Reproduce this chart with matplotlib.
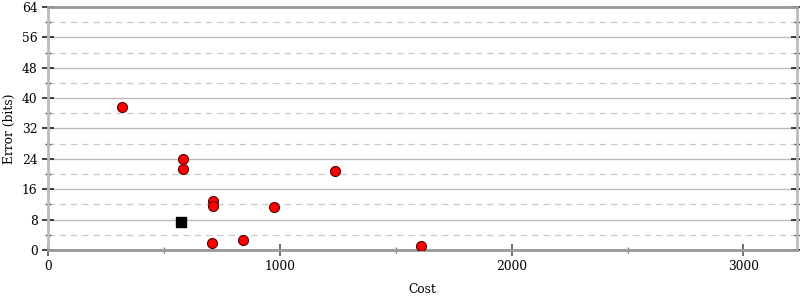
import matplotlib

matplotlib.use("Agg")
import matplotlib.pyplot as plt
from matplotlib.ticker import MultipleLocator

plt.rcParams["font.family"] = ["DejaVu Serif"]

# red circles: (cost, error bits)
cost = [319, 582, 582, 711, 711, 708, 842, 975, 1240, 1608]
error_bits = [37.7, 23.9, 21.3, 12.8, 11.7, 1.9, 2.55, 11.3, 20.8, 1.1]
# black square
ref_cost = [573]
ref_error = [7.5]

fig = plt.figure(figsize=(8, 3), dpi=100)
ax = fig.add_axes([0.06, 0.1667, 0.936, 0.81])

ax.set_xlim(0, 3230)
ax.set_ylim(0, 64)
ax.xaxis.set_major_locator(MultipleLocator(1000))
ax.xaxis.set_minor_locator(MultipleLocator(500))
ax.yaxis.set_major_locator(MultipleLocator(8))
ax.yaxis.set_minor_locator(MultipleLocator(4))

ax.grid(axis="y", which="major", color="#bbbbbb", linewidth=1.0)
ax.grid(axis="y", which="minor", color="#c8c8c8", linewidth=0.9, linestyle=(0, (5, 4)))
ax.set_axisbelow(True)

for side in ["left", "right"]:
    ax.spines[side].set_color("#bbbbbb")
    ax.spines[side].set_linewidth(2)
for side in ["top", "bottom"]:
    ax.spines[side].set_color("#999999")
    ax.spines[side].set_linewidth(2)

ax.tick_params(axis="y", which="major", direction="inout", length=8, width=1.2,
               color="#222222", left=True, right=True, labelsize=8.8)
ax.tick_params(axis="y", which="minor", direction="inout", length=5, width=1,
               color="#555555", left=True, right=True)
ax.tick_params(axis="x", which="major", direction="inout", length=9, width=1.2,
               color="#555555", labelsize=8.8, pad=3)
ax.tick_params(axis="x", which="minor", direction="inout", length=5, width=1,
               color="#777777")

ax.plot(cost, error_bits, linestyle="none", marker="o", markersize=7.2,
        markerfacecolor="#ff0000", markeredgecolor="#550000", markeredgewidth=0.8, zorder=3)
ax.plot(ref_cost, ref_error, linestyle="none", marker="s", markersize=7.5,
        color="black", zorder=3)

ax.set_xlabel("Cost", fontsize=8.8, labelpad=7)
ax.set_ylabel("Error (bits)", fontsize=8.8, labelpad=4)

fig.savefig("out.png", dpi=100)
